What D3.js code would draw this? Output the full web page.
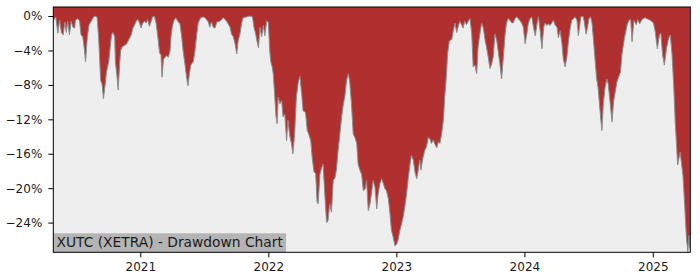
<!DOCTYPE html>
<html><head><meta charset="utf-8">
<script src="https://cdn.jsdelivr.net/npm/d3@7"></script>
<style>
body{margin:0;background:#fff;}
svg{display:block;font-family:"DejaVu Sans",sans-serif;}
</style>
</head><body>
<svg id="c" width="700" height="280"></svg>
<script>
const dates = [
"2020-04-28","2020-05-05","2020-05-11","2020-05-16","2020-05-21","2020-05-26","2020-05-31","2020-06-04","2020-06-08","2020-06-13",
"2020-06-18","2020-06-23","2020-06-28","2020-06-30","2020-07-07","2020-07-12","2020-07-16","2020-07-21","2020-07-26","2020-07-29",
"2020-08-03","2020-08-08","2020-08-14","2020-08-21","2020-08-27","2020-08-31","2020-09-04","2020-09-07","2020-09-10","2020-09-14",
"2020-09-18","2020-09-23","2020-09-26","2020-09-29","2020-10-03","2020-10-07","2020-10-11","2020-10-15","2020-10-20","2020-10-22",
"2020-10-26","2020-10-30","2020-11-03","2020-11-06","2020-11-10","2020-11-17","2020-11-22","2020-11-26","2020-12-01","2020-12-06",
"2020-12-11","2020-12-16","2020-12-20","2020-12-25","2020-12-30","2021-01-03","2021-01-08","2021-01-13","2021-01-18","2021-01-22",
"2021-01-27","2021-02-01","2021-02-05","2021-02-10","2021-02-15","2021-02-20","2021-02-25","2021-03-01","2021-03-04","2021-03-08",
"2021-03-13","2021-03-17","2021-03-22","2021-03-27","2021-03-30","2021-04-02","2021-04-06","2021-04-12","2021-04-18","2021-04-24",
"2021-04-29","2021-05-03","2021-05-08","2021-05-13","2021-05-17","2021-05-21","2021-05-25","2021-06-01","2021-06-06","2021-06-11",
"2021-06-15","2021-06-22","2021-06-30","2021-07-07","2021-07-14","2021-07-18","2021-07-23","2021-07-28","2021-08-02","2021-08-07",
"2021-08-16","2021-08-26","2021-09-04","2021-09-14","2021-09-18","2021-09-23","2021-09-28","2021-10-03","2021-10-07","2021-10-12",
"2021-10-17","2021-10-21","2021-10-31","2021-11-09","2021-11-17","2021-11-21","2021-11-26","2021-12-01","2021-12-04","2021-12-08",
"2021-12-13","2021-12-18","2021-12-22","2021-12-27","2022-01-01","2022-01-05","2022-01-08","2022-01-12","2022-01-15","2022-01-18",
"2022-01-23","2022-01-26","2022-01-29","2022-02-03","2022-02-08","2022-02-12","2022-02-17","2022-02-22","2022-02-26","2022-03-03",
"2022-03-08","2022-03-12","2022-03-17","2022-03-22","2022-03-27","2022-04-01","2022-04-06","2022-04-10","2022-04-17","2022-04-22",
"2022-04-26","2022-05-02","2022-05-06","2022-05-11","2022-05-16","2022-05-20","2022-05-23","2022-05-28","2022-06-02","2022-06-06",
"2022-06-11","2022-06-16","2022-06-20","2022-06-25","2022-06-30","2022-07-05","2022-07-10","2022-07-14","2022-07-19","2022-07-24",
"2022-07-29","2022-08-03","2022-08-07","2022-08-12","2022-08-17","2022-08-21","2022-08-26","2022-08-31","2022-09-05","2022-09-10",
"2022-09-14","2022-09-19","2022-09-24","2022-09-29","2022-10-04","2022-10-08","2022-10-13","2022-10-18","2022-10-23","2022-10-27",
"2022-11-01","2022-11-06","2022-11-10","2022-11-15","2022-11-20","2022-11-25","2022-11-30","2022-12-04","2022-12-09","2022-12-14",
"2022-12-18","2022-12-23","2022-12-28","2023-01-02","2023-01-06","2023-01-11","2023-01-16","2023-01-20","2023-01-25","2023-01-30",
"2023-02-04","2023-02-09","2023-02-13","2023-02-18","2023-02-23","2023-02-28","2023-03-04","2023-03-09","2023-03-12","2023-03-17",
"2023-03-23","2023-03-28","2023-04-02","2023-04-07","2023-04-11","2023-04-16","2023-04-21","2023-04-26","2023-05-01","2023-05-05",
"2023-05-10","2023-05-15","2023-05-19","2023-05-24","2023-05-27","2023-06-01","2023-06-08","2023-06-12","2023-06-17","2023-06-22",
"2023-06-27","2023-07-01","2023-07-06","2023-07-10","2023-07-15","2023-07-20","2023-07-25","2023-07-30","2023-08-04","2023-08-08",
"2023-08-13","2023-08-18","2023-08-22","2023-08-27","2023-09-01","2023-09-06","2023-09-11","2023-09-15","2023-09-20","2023-09-25",
"2023-09-30","2023-10-04","2023-10-09","2023-10-14","2023-10-18","2023-10-23","2023-10-28","2023-11-02","2023-11-07","2023-11-11",
"2023-11-16","2023-11-21","2023-11-26","2023-11-30","2023-12-05","2023-12-10","2023-12-14","2023-12-19","2023-12-24","2023-12-29",
"2024-01-03","2024-01-08","2024-01-12","2024-01-17","2024-01-22","2024-01-27","2024-02-01","2024-02-06","2024-02-10","2024-02-15",
"2024-02-20","2024-02-25","2024-02-29","2024-03-05","2024-03-10","2024-03-14","2024-03-19","2024-03-24","2024-03-29","2024-04-03",
"2024-04-07","2024-04-12","2024-04-17","2024-04-21","2024-04-26","2024-05-01","2024-05-06","2024-05-11","2024-05-15","2024-05-20",
"2024-05-25","2024-05-30","2024-06-03","2024-06-06","2024-06-10","2024-06-16","2024-06-19","2024-06-25","2024-06-29","2024-07-03",
"2024-07-08","2024-07-12","2024-07-16","2024-07-20","2024-07-25","2024-07-29","2024-08-02","2024-08-06","2024-08-09","2024-08-13",
"2024-08-18","2024-08-23","2024-08-27","2024-09-07","2024-09-11","2024-09-21","2024-10-01","2024-10-05","2024-10-12","2024-10-20",
"2024-10-25","2024-10-30","2024-11-03","2024-11-08","2024-11-15","2024-11-19","2024-11-25","2024-12-01","2024-12-10","2024-12-20",
"2024-12-25","2025-01-03","2025-01-08","2025-01-14","2025-01-20","2025-01-24","2025-01-29","2025-02-03","2025-02-09","2025-02-15",
"2025-02-20","2025-02-25","2025-03-02","2025-03-06","2025-03-13","2025-03-20","2025-03-28","2025-04-02","2025-04-07","2025-04-11",
"2025-04-14","2025-04-17"
];
const drawdown = [
-0.5,-0.1,-2.0,-0.5,-1.9,-2.2,-0.7,-1.9,-0.6,-2.2,
-0.6,-1.3,-1.4,-0.5,-0.3,-0.6,-2.2,-2.4,-4.0,-5.3,
-2.4,-1.0,-0.6,-0.1,0,-0.2,-2.4,-4.8,-7.5,-7.9,
-9.6,-7.9,-6.7,-6.0,-5.3,-3.7,-2.2,-1.9,-2.4,-5.3,
-6.8,-8.6,-5.6,-4.0,-3.6,-3.4,-3.3,-3.0,-2.6,-2.2,
-1.4,-1.0,-0.6,-0.4,-0.8,-1.4,-0.8,-0.6,-0.8,-0.4,
-1.2,-0.6,-0.1,0,-0.8,-2.4,-4.3,-4.5,-7.1,-5.0,
-4.8,-4.6,-4.8,-4.0,-2.2,-1.3,-0.6,-0.2,-0.6,-0.9,
-2.4,-4.0,-5.5,-7.1,-8.1,-6.7,-5.7,-5.3,-4.0,-2.1,
-0.8,-0.2,-0.1,-0.3,-0.7,-1.3,-0.7,-1.3,-1.4,-0.7,
-0.6,-0.2,-0.6,-1.3,-2.1,-2.4,-3.2,-4.4,-2.9,-2.1,
-0.8,-0.2,-0.1,0,-0.1,-1.3,-2.1,-3.2,-3.7,-1.3,
-2.4,-1.1,-2.3,-0.6,-0.7,-4.0,-5.3,-5.9,-6.7,-8.5,
-11.7,-12.5,-9.4,-10.2,-9.8,-11.7,-11.4,-14.5,-12.1,-13.9,
-14.8,-16.0,-13.7,-9.4,-7.8,-7.0,-9.0,-11.0,-11.2,-13.3,
-13.7,-14.5,-16.4,-18.1,-18.3,-21.6,-21.8,-18.4,-17.6,-17.2,
-20.7,-24.0,-23.8,-21.8,-22.8,-19.1,-18.8,-17.9,-15.6,-13.7,
-11.7,-10.2,-9.4,-7.5,-6.7,-7.6,-10.2,-13.7,-14.1,-14.8,
-17.2,-17.9,-18.4,-20.3,-20.1,-19.1,-22.6,-21.8,-20.3,-19.1,
-19.9,-22.4,-20.7,-19.5,-18.9,-19.5,-20.1,-20.3,-21.2,-23.0,
-24.9,-25.7,-26.7,-26.5,-26.0,-24.9,-24.1,-23.4,-22.2,-20.7,
-18.8,-17.2,-16.2,-16.7,-18.1,-18.9,-18.0,-16.7,-17.9,-16.6,
-15.6,-15.2,-14.1,-14.3,-14.8,-14.4,-14.9,-15.3,-14.6,-14.8,
-13.7,-12.1,-9.4,-6.7,-4.4,-2.9,-2.7,-1.8,-0.8,-1.9,
-1.1,-0.6,-1.0,-1.4,-0.6,-1.0,-0.6,-0.3,-2.1,-5.9,
-5.7,-6.7,-3.6,-2.1,-0.8,-1.4,-2.8,-3.6,-4.8,-6.1,
-5.5,-4.8,-2.1,-2.8,-4.0,-5.5,-7.3,-4.8,-2.1,-0.8,
-0.3,-0.5,-0.8,-0.8,-0.3,-0.1,-0.3,-0.5,-0.8,-1.3,
-3.2,-2.1,-0.9,-0.3,-0.1,-1.3,-2.3,-0.9,-0.1,-1.7,
-3.8,-1.3,-0.8,-1.1,-0.9,-1.1,-0.8,-0.5,-1.1,-1.3,
-2.5,-1.7,-3.2,-5.0,-5.9,-4.8,-2.8,-1.3,-0.5,-0.3,
-0.1,-0.5,-2.3,-1.3,-0.1,0,-0.5,-2.1,-1.3,-0.3,
-0.1,-0.9,-2.8,-4.8,-7.3,-8.3,-10.2,-12.1,-13.3,-10.2,
-8.3,-7.3,-7.9,-12.3,-10.0,-7.6,-6.5,-4.5,-2.6,-1.0,
-0.5,-0.4,-3.0,-0.5,-1.0,-0.4,-0.9,-0.4,-0.2,-0.4,
-0.5,-0.8,-1.8,-3.8,-2.2,-2.0,-4.5,-5.7,-3.8,-2.6,
-2.2,-4.5,-8.4,-12.3,-17.3,-15.8,-18.5,-22.0,-25.8,-27.4,
-25.5,-27.0
];
const yTicks = [0, -4, -8, -12, -16, -20, -24];
const yDomain = [-27.45, 1.05];
const xTicks = ["2021-01-01", "2022-01-01", "2023-01-01", "2024-01-01", "2025-01-01"];
const xDomain = ["2020-04-28", "2025-04-18"];
const title = "XUTC (XETRA) - Drawdown Chart";

const parse = d3.utcParse("%Y-%m-%d");
const data = dates.map((d, i) => ({date: parse(d), v: drawdown[i]}));

const L = 53.3, R = 690.3, T = 7, B = 252.3;
const svg = d3.select("#c");
const x = d3.scaleUtc().domain(xDomain.map(parse)).range([L, R]);
const y = d3.scaleLinear().domain(yDomain).range([B, T]);

svg.append("rect").attr("x", L).attr("y", T).attr("width", R - L).attr("height", B - T).attr("fill", "#eeeeee");

const clip = svg.append("clipPath").attr("id", "pc").append("rect")
  .attr("x", L).attr("y", T).attr("width", R - L).attr("height", B - T);

const g = svg.append("g").attr("clip-path", "url(#pc)");
g.append("path").datum(data)
  .attr("fill", "#b03030")
  .attr("d", d3.area().x(d => x(d.date)).y0(y(yDomain[1])).y1(d => y(d.v)));
g.append("path").datum(data)
  .attr("fill", "none").attr("stroke", "#8c8c8c").attr("stroke-width", 1)
  .attr("d", d3.line().x(d => x(d.date)).y(d => y(d.v)));

// label box
const lab = svg.append("g");
const txt = lab.append("text").attr("x", L + 3.2).attr("y", 246.7)
  .attr("font-size", "13.8px").attr("fill", "#1a1a1a").text(title);
const tw = txt.node().getComputedTextLength();
lab.insert("rect", "text").attr("x", L).attr("y", 233.3).attr("width", tw + 6.4).attr("height", B - 233.3)
  .attr("fill", "#b4b4b4");

// frame
svg.append("rect").attr("x", L).attr("y", T).attr("width", R - L).attr("height", B - T)
  .attr("fill", "none").attr("stroke", "#000").attr("stroke-width", 1);

const fmtY = d => (d < 0 ? "\u2212" : "") + Math.abs(d) + "%";
const ya = svg.append("g").attr("transform", `translate(${L},0)`)
  .call(d3.axisLeft(y).tickValues(yTicks).tickSize(5).tickPadding(6).tickFormat(fmtY));
const xa = svg.append("g").attr("transform", `translate(0,${B})`)
  .call(d3.axisBottom(x).tickValues(xTicks.map(parse)).tickSize(5).tickPadding(5.5).tickFormat(d3.utcFormat("%Y")));
[ya, xa].forEach(a => {
  a.select(".domain").remove();
  a.selectAll("text").attr("font-family", "DejaVu Sans").attr("font-size", "12px").attr("fill", "#1a1a1a");
  a.selectAll("line").attr("stroke", "#000");
});
</script>
</body></html>
